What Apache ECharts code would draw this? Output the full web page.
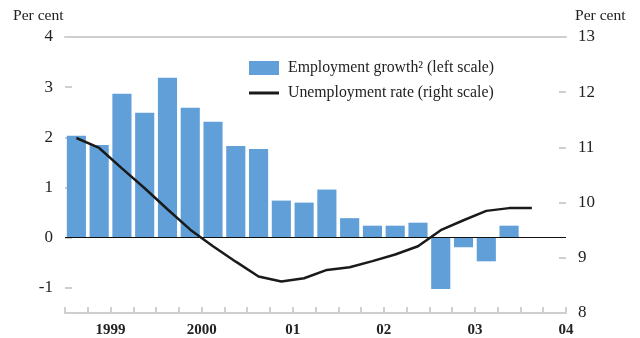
<!DOCTYPE html>
<html>
<head>
<meta charset="utf-8">
<script src="https://cdn.jsdelivr.net/npm/echarts@6/dist/echarts.min.js"></script>
<style>html,body{margin:0;padding:0;background:#fff}#c{width:640px;height:338px}</style>
</head>
<body>
<div id="c"></div>
<script>
const quarters = ['1999Q1','1999Q2','1999Q3','1999Q4','2000Q1','2000Q2','2000Q3','2000Q4',
  '2001Q1','2001Q2','2001Q3','2001Q4','2002Q1','2002Q2','2002Q3','2002Q4',
  '2003Q1','2003Q2','2003Q3','2003Q4','2004Q1','2004Q2'];
const employmentGrowth = [2.03,1.85,2.87,2.49,3.19,2.59,2.31,1.83,1.77,0.74,0.70,0.96,0.39,0.24,0.24,0.30,-1.02,-0.19,-0.47,0.24];
const unemploymentRate = [11.17,10.99,10.62,10.26,9.88,9.51,9.21,8.93,8.66,8.57,8.63,8.78,8.83,8.94,9.06,9.21,9.50,9.68,9.85,9.90,9.90];
const yearLabels = ['1999','2000','01','02','03','04'];
const leftTicks = [-1,0,1,2,3,4];
const rightTicks = [8,9,10,11,12,13];

const yearPos = [];
quarters.forEach((q,i)=>{ if(q.endsWith('Q1')) yearPos.push(i+2); });
if (yearPos.length < yearLabels.length) yearPos.push(quarters.length);

const serif = 'Liberation Serif';
const grey = '#cfcfcf';
const barName = 'Employment growth² (left scale)';
const lineName = 'Unemployment rate (right scale)';
const legendText = {fontFamily:serif,fontSize:15.8,color:'#222',padding:[0,0,0,4]};
const chart = echarts.init(document.getElementById('c'), null, {renderer:'canvas'});
chart.setOption({
  animation:false,
  textStyle:{fontFamily:serif},
  grid:{left:65,right:74,top:37,bottom:24,containLabel:false},
  legend:[
    {left:249, top:60, padding:0, itemWidth:30, itemHeight:14,
     textStyle:legendText, data:[{name:barName,icon:'rect'}]},
    {left:249, top:85, padding:0, itemWidth:30, itemHeight:14,
     textStyle:legendText, data:[{name:lineName,icon:'path://M0,0L30,0L30,3L0,3Z'}],
     symbolKeepAspect:true}
  ],
  graphic:[
    {type:'text',left:13,top:8,style:{text:'Per cent',font:'15.6px "Liberation Serif"',fill:'#222'}},
    {type:'text',left:575,top:8,style:{text:'Per cent',font:'15.6px "Liberation Serif"',fill:'#222'}}
  ],
  xAxis:[
    {type:'category',data:quarters,position:'bottom',boundaryGap:true,
     axisLine:{onZero:false,lineStyle:{color:grey,width:2}},
     axisTick:{show:true,alignWithLabel:false,interval:0,inside:true,length:6,lineStyle:{color:grey,width:2}},
     axisLabel:{show:false},splitLine:{show:false},z:3},
    {type:'value',min:0,max:quarters.length,position:'bottom',
     axisLine:{show:false,onZero:false},axisTick:{show:false},splitLine:{show:false},
     axisLabel:{customValues:yearPos,margin:10,fontFamily:serif,fontSize:15,fontWeight:'bold',color:'#222',
       formatter:(v)=>{const k=yearPos.indexOf(v);return k>=0?yearLabels[k]:'';}}},
    {type:'value',min:0,max:1,position:'top',
     axisLine:{show:true,onZero:false,lineStyle:{color:grey,width:2}},
     axisTick:{show:false},axisLabel:{show:false},splitLine:{show:false}}
  ],
  yAxis:[
    {type:'value',min:-1.5,max:4,position:'left',
     axisLine:{show:false,onZero:false},splitLine:{show:false},
     axisTick:{show:true,inside:true,length:7,customValues:leftTicks.slice(0,-1),lineStyle:{color:grey,width:2}},
     axisLabel:{customValues:leftTicks,margin:12,fontFamily:serif,fontSize:17,color:'#222'}},
    {type:'value',min:8,max:13,interval:1,position:'right',
     axisLine:{show:false,onZero:false},splitLine:{show:false},
     axisTick:{show:true,inside:true,length:7,customValues:rightTicks.slice(1,-1),lineStyle:{color:grey,width:2}},
     axisLabel:{customValues:rightTicks,margin:12,fontFamily:serif,fontSize:17,color:'#222'}}
  ],
  series:[
    {name:barName,type:'bar',xAxisIndex:0,yAxisIndex:0,
     data:employmentGrowth,barCategoryGap:'16%',itemStyle:{color:'#609fd8'},
     markLine:{silent:true,symbol:['none','none'],label:{show:false},
       lineStyle:{color:'#111',width:1.2,type:'solid'},data:[{yAxis:0}]}},
    {name:lineName,type:'line',xAxisIndex:0,yAxisIndex:1,
     data:unemploymentRate,symbol:'none',lineStyle:{color:'#1a1a1a',width:2.5},itemStyle:{color:'#1a1a1a'},z:5}
  ]
});
</script>
</body>
</html>
